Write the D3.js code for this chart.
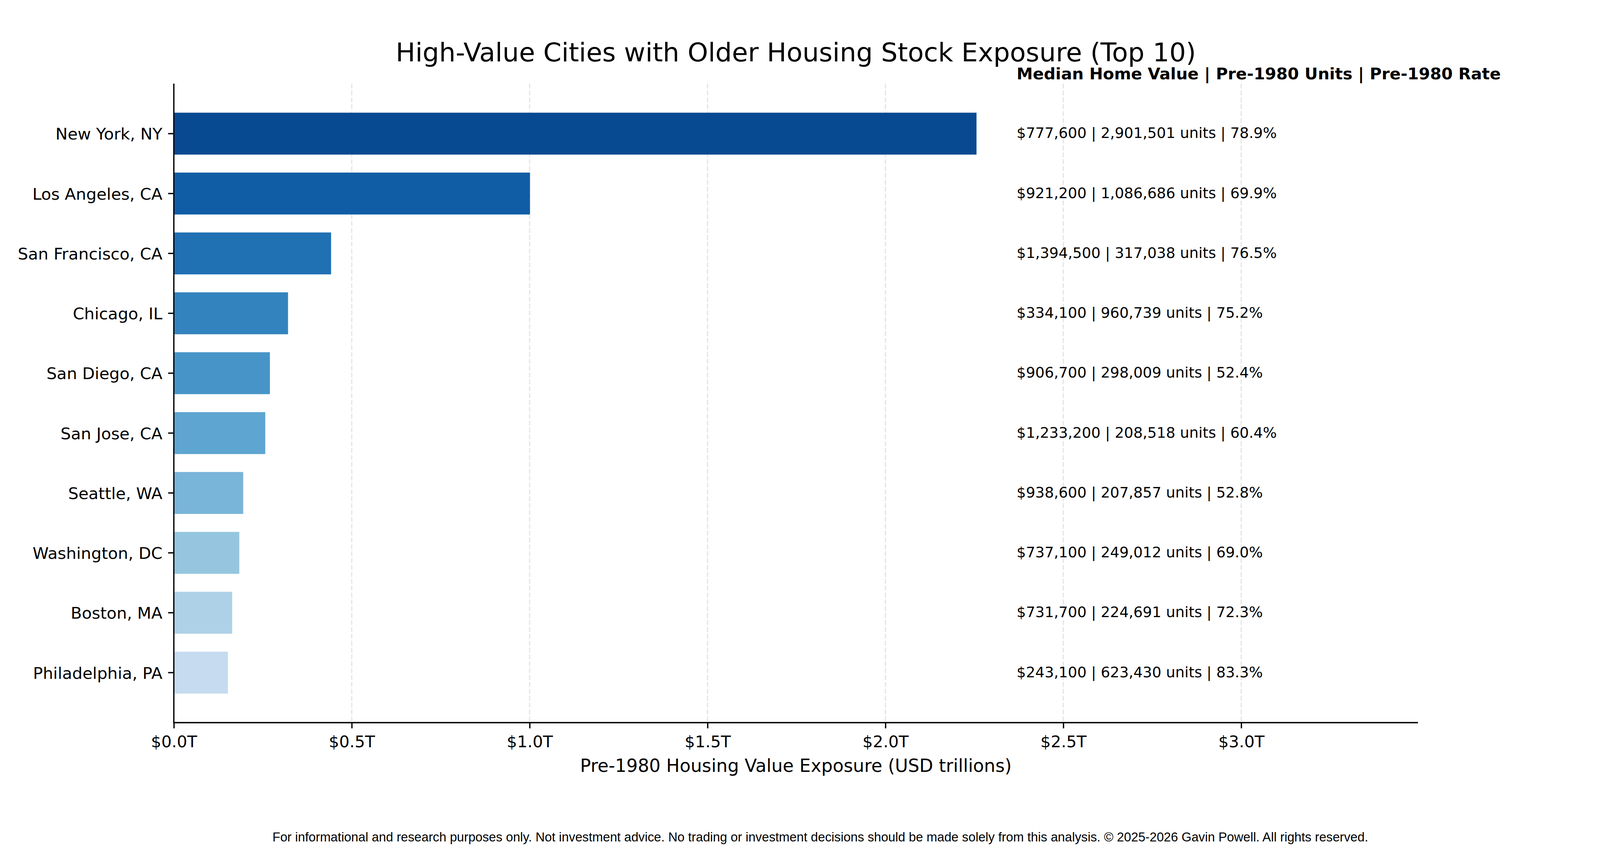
<!DOCTYPE html>
<html><head><meta charset="utf-8">
<script src="https://cdn.jsdelivr.net/npm/d3@7/dist/d3.min.js"></script>
<style>body{margin:0;background:#fff}svg{display:block}</style>
</head><body>
<svg id="chart" width="4200" height="2180"></svg>
<script>
// ---- data ----
const cities = ["New York, NY","Los Angeles, CA","San Francisco, CA","Chicago, IL","San Diego, CA",
  "San Jose, CA","Seattle, WA","Washington, DC","Boston, MA","Philadelphia, PA"];
const exposureTrillions = [2.256, 1.001, 0.442, 0.321, 0.270, 0.257, 0.195, 0.184, 0.164, 0.152];
const medianHomeValues = ["$777,600","$921,200","$1,394,500","$334,100","$906,700",
  "$1,233,200","$938,600","$737,100","$731,700","$243,100"];
const pre1980Units = ["2,901,501","1,086,686","317,038","960,739","298,009",
  "208,518","207,857","249,012","224,691","623,430"];
const pre1980Rates = ["78.9%","69.9%","76.5%","75.2%","52.4%","60.4%","52.8%","69.0%","72.3%","83.3%"];
const xTickValues = [0, 0.5, 1.0, 1.5, 2.0, 2.5, 3.0];

const titleText = "High-Value Cities with Older Housing Stock Exposure (Top 10)";
const headerText = "Median Home Value | Pre-1980 Units | Pre-1980 Rate";
const xLabelText = "Pre-1980 Housing Value Exposure (USD trillions)";
const footnoteText = "For informational and research purposes only. Not investment advice. No trading or investment decisions should be made solely from this analysis. \u00A9 2025-2026 Gavin Powell. All rights reserved.";

// ---- palette (matplotlib Blues anchors) ----
const bluesAnchors = ["#f7fbff","#deebf7","#c6dbef","#9ecae1","#6baed6","#4292c6","#2171b5","#08519c","#08306b"];
const blues = d3.scaleLinear().domain(d3.range(9).map(i => i / 8)).range(bluesAnchors).interpolate(d3.interpolateRgb);
const colorPos = d3.scaleLinear().domain([0, cities.length - 1]).range([0.9, 0.25]);

// ---- layout ----
const W = 4200, H = 2180;
const plot = {left: 445, right: 3630, top: 214, bottom: 1849};
const FONT = "'DejaVu Sans', sans-serif";
const svg = d3.select("#chart");
svg.append("rect").attr("width", W).attr("height", H).attr("fill", "#fff");

const maxVal = d3.max(exposureTrillions);
const x = d3.scaleLinear().domain([0, maxVal * 1.55]).range([plot.left, plot.right]);
const y = d3.scaleBand().domain(cities).range([plot.top, plot.bottom])
  .paddingInner(0.3).paddingOuter(0.485);

// grid
svg.append("g").selectAll("line").data(xTickValues).join("line")
  .attr("x1", d => x(d)).attr("x2", d => x(d))
  .attr("y1", plot.top).attr("y2", plot.bottom)
  .attr("stroke", "#e6e6e6").attr("stroke-width", 3.33)
  .attr("stroke-dasharray", "12.3,5.3");

// bars
svg.append("g").selectAll("rect").data(cities).join("rect")
  .attr("x", x(0))
  .attr("y", d => y(d))
  .attr("width", (d, i) => x(exposureTrillions[i]) - x(0))
  .attr("height", y.bandwidth())
  .attr("fill", (d, i) => blues(colorPos(i)));

// x axis
const xAxis = d3.axisBottom(x).tickValues(xTickValues).tickSize(14.6).tickPadding(14.6)
  .tickFormat(d => "$" + d3.format(".1f")(d) + "T");
const gx = svg.append("g").attr("transform", `translate(0,${plot.bottom})`).call(xAxis);
gx.select(".domain").remove();
gx.selectAll(".tick line").attr("stroke", "#000").attr("stroke-width", 3.33);
gx.selectAll(".tick text").attr("font-family", FONT).attr("font-size", 41.67).attr("fill", "#000")
  .attr("dy", null).attr("y", 63);

// y axis
const yAxis = d3.axisLeft(y).tickSize(14.6).tickPadding(14.6);
const gy = svg.append("g").attr("transform", `translate(${plot.left},0)`).call(yAxis);
gy.select(".domain").remove();
gy.selectAll(".tick line").attr("stroke", "#000").attr("stroke-width", 3.33);
gy.selectAll(".tick text").attr("font-family", FONT).attr("font-size", 41.67).attr("fill", "#000")
  .attr("dy", null).attr("y", 15.5);

// spines
svg.append("line").attr("x1", plot.left).attr("x2", plot.left).attr("y1", plot.top).attr("y2", plot.bottom + 1.6)
  .attr("stroke", "#000").attr("stroke-width", 3.33);
svg.append("line").attr("x1", plot.left - 1.6).attr("x2", plot.right).attr("y1", plot.bottom).attr("y2", plot.bottom)
  .attr("stroke", "#000").attr("stroke-width", 3.33);

// annotations
const annX = x(maxVal * 1.05);
svg.append("text").attr("x", annX).attr("y", 203)
  .attr("font-family", FONT).attr("font-size", 41.67).attr("font-weight", "bold").attr("fill", "#000")
  .text(headerText);
svg.append("g").selectAll("text").data(cities).join("text")
  .attr("x", annX)
  .attr("y", d => y(d) + y.bandwidth() / 2 + 11.5)
  .attr("font-family", FONT).attr("font-size", 37.5).attr("fill", "#000")
  .text((d, i) => `${medianHomeValues[i]} | ${pre1980Units[i]} units | ${pre1980Rates[i]}`);

// title
svg.append("text").attr("x", (plot.left + plot.right) / 2).attr("y", 157)
  .attr("text-anchor", "middle").attr("font-family", FONT).attr("font-size", 66.7).attr("fill", "#000")
  .text(titleText);

// x label
svg.append("text").attr("x", (plot.left + plot.right) / 2).attr("y", 1975)
  .attr("text-anchor", "middle").attr("font-family", FONT).attr("font-size", 45.8).attr("fill", "#000")
  .text(xLabelText);

// footnote
svg.append("text").attr("x", W / 2).attr("y", 2153)
  .attr("text-anchor", "middle").attr("font-family", "'Liberation Sans', Arial, sans-serif")
  .attr("font-size", 32.7).attr("fill", "#000")
  .text(footnoteText);
</script>
</body></html>
